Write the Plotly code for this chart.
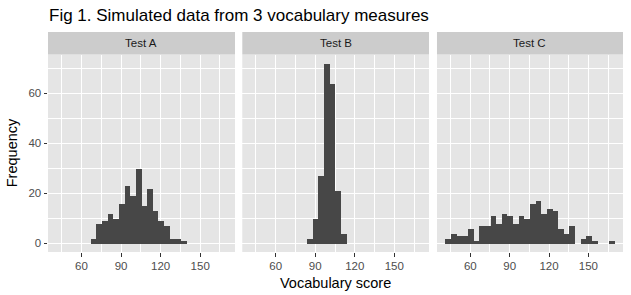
import plotly.graph_objects as go

# ---- data ----
tests = ["Test A", "Test B", "Test C"]
bin_start = 41.05
bin_width = 4.296
counts_a = [0, 0, 0, 0, 0, 0, 2, 8, 9, 12, 10, 16, 23, 19, 30, 15, 22, 13, 9, 7, 2, 2, 1, 0, 0, 0, 0, 0, 0, 0]
counts_b = [0, 0, 0, 0, 0, 0, 0, 0, 0, 0, 2, 10, 27, 72, 64, 21, 4, 0, 0, 0, 0, 0, 0, 0, 0, 0, 0, 0, 0, 0]
counts_c = [2, 4, 3, 3, 6, 1, 7, 7, 11, 8, 12, 11, 8, 11, 10, 16, 17, 12, 14, 13, 6, 4, 7, 0, 2, 3, 1, 0, 0, 1]
x_ticks = [60, 90, 120, 150]
x_minor = [45, 75, 105, 135, 165]
y_ticks = [0, 20, 40, 60]
y_minor = [10, 30, 50, 70]

all_counts = [counts_a, counts_b, counts_c]
n_bins = len(counts_a)
centers = [bin_start + (i + 0.5) * bin_width for i in range(n_bins)]
x_range = [bin_start - 0.05 * n_bins * bin_width, bin_start + 1.05 * n_bins * bin_width]
ymax = max(max(c) for c in all_counts)
y_range = [-0.05 * ymax, 1.05 * ymax]

FONT = "Liberation Sans, Arial, Helvetica, sans-serif"
PANEL_BG = "#E5E5E5"
STRIP_BG = "#CCCCCC"
BAR = "#474747"

W, H = 631, 295
ML, MR, MT, MB = 48, 8, 32, 43
PW = W - ML - MR
PH = H - MT - MB
panel_top_px = 54.5
ytop = (MT + PH - panel_top_px) / PH

x_domains = [[0.0, 0.3252], [0.3379, 0.6626], [0.6765, 1.0]]

fig = go.Figure()
for k, (name, counts) in enumerate(zip(tests, all_counts)):
    sfx = "" if k == 0 else str(k + 1)
    fig.add_trace(go.Bar(
        x=centers, y=counts, width=bin_width,
        marker=dict(color=BAR, line=dict(width=0)),
        xaxis="x" + sfx, yaxis="y" + sfx, showlegend=False, hoverinfo="x+y",
    ))
    xa = dict(
        domain=x_domains[k], range=x_range, anchor="y" + sfx,
        tickmode="array", tickvals=x_ticks, ticks="outside", ticklen=3.5,
        tickwidth=1, tickcolor="#333333",
        tickfont=dict(family=FONT, size=11.5, color="#4D4D4D"),
        showgrid=True, gridcolor="white", gridwidth=1.1,
        minor=dict(tickmode="array", tickvals=x_minor, showgrid=True,
                   gridcolor="white", gridwidth=0.55, ticks=""),
        zeroline=False, showline=False, fixedrange=True,
    )
    ya = dict(
        domain=[0, ytop], range=y_range, anchor="x" + sfx,
        tickmode="array", tickvals=y_ticks,
        ticks="outside" if k == 0 else "", ticklen=3.5, tickwidth=1,
        tickcolor="#333333", showticklabels=(k == 0),
        tickfont=dict(family=FONT, size=11.5, color="#4D4D4D"),
        showgrid=True, gridcolor="white", gridwidth=1.1,
        minor=dict(tickmode="array", tickvals=y_minor, showgrid=True,
                   gridcolor="white", gridwidth=0.55, ticks=""),
        zeroline=False, showline=False, fixedrange=True,
    )
    fig.update_layout(**{"xaxis" + sfx: xa, "yaxis" + sfx: ya})

shapes = []
annotations = []
for k, name in enumerate(tests):
    d = x_domains[k]
    # panel background
    shapes.append(dict(type="rect", xref="paper", yref="paper",
                       x0=d[0], x1=d[1], y0=0, y1=ytop,
                       fillcolor=PANEL_BG, line=dict(width=0), layer="below"))
    # strip
    shapes.append(dict(type="rect", xref="paper", yref="paper",
                       x0=d[0], x1=d[1], y0=ytop, y1=1,
                       fillcolor=STRIP_BG, line=dict(width=0), layer="below"))
    annotations.append(dict(text=name, xref="paper", yref="paper",
                            x=(d[0] + d[1]) / 2, y=(ytop + 1) / 2,
                            xanchor="center", yanchor="middle", showarrow=False,
                            font=dict(family=FONT, size=11.5, color="#1A1A1A")))

annotations.append(dict(text="Vocabulary score", xref="paper", yref="paper",
                        x=0.5, y=(MT + PH - 283) / PH, xanchor="center",
                        yanchor="middle", showarrow=False,
                        font=dict(family=FONT, size=14.5, color="black")))
annotations.append(dict(text="Frequency", xref="paper", yref="paper",
                        x=(12 - ML) / PW, y=ytop / 2, textangle=-90,
                        xanchor="center", yanchor="middle", showarrow=False,
                        font=dict(family=FONT, size=14.5, color="black")))

fig.update_layout(
    width=W, height=H,
    margin=dict(l=ML, r=MR, t=MT, b=MB, pad=0),
    paper_bgcolor="white", plot_bgcolor="rgba(0,0,0,0)",
    bargap=0, shapes=shapes, annotations=annotations,
    title=dict(text="Fig 1. Simulated data from 3 vocabulary measures",
               xref="container", yref="container",
               x=49 / W, xanchor="left", y=1 - 15 / H, yanchor="middle",
               font=dict(family=FONT, size=17, color="black")),
)

fig.write_html("out.html")
